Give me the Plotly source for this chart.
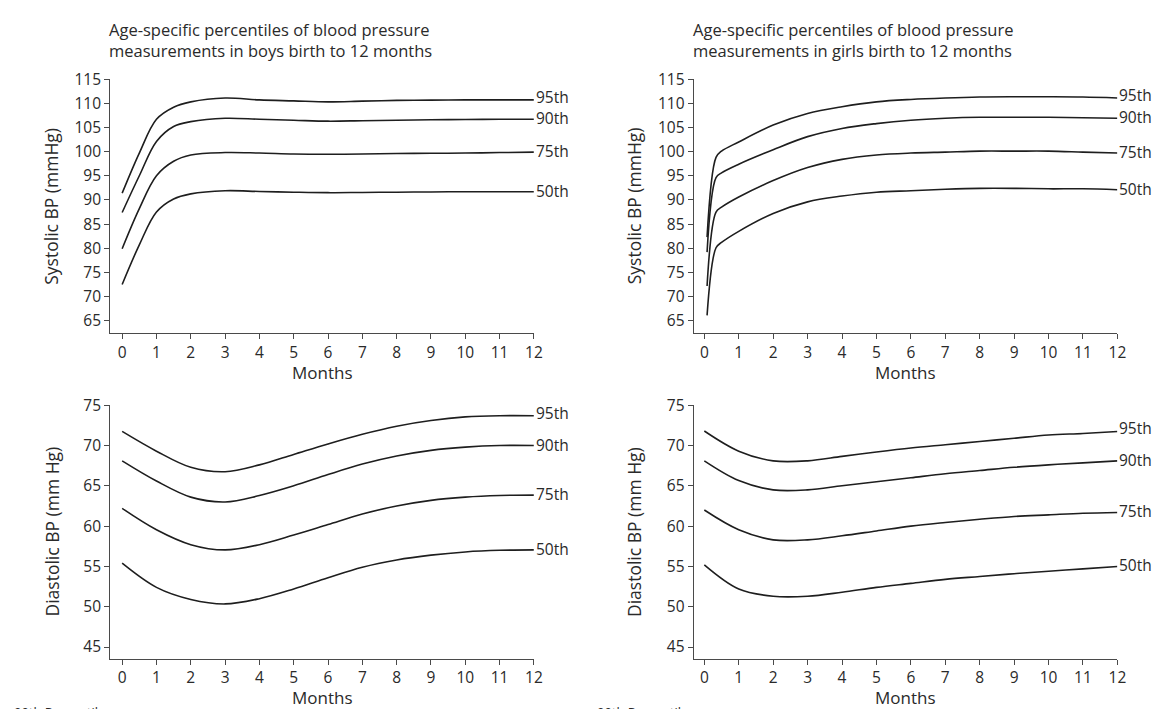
import plotly.graph_objects as go

W, H = 1176, 709

# ---------------- data ----------------
months_bs = [0, 0.5, 1, 1.5, 2, 3, 4, 5, 6, 7, 8, 9, 10, 11, 12]
boys_sys_95 = [91.4, 99.7, 106.7, 109.2, 110.3, 111.1, 110.7, 110.5, 110.3, 110.45, 110.6, 110.65, 110.7, 110.7, 110.7]
boys_sys_90 = [87.4, 95.0, 102.1, 105.2, 106.2, 106.9, 106.7, 106.5, 106.3, 106.4, 106.5, 106.6, 106.65, 106.7, 106.7]
boys_sys_75 = [79.9, 88.2, 95.0, 98.0, 99.3, 99.8, 99.7, 99.5, 99.45, 99.5, 99.6, 99.65, 99.7, 99.8, 99.9]
boys_sys_50 = [72.5, 80.7, 87.5, 90.2, 91.25, 91.9, 91.75, 91.6, 91.5, 91.55, 91.6, 91.65, 91.7, 91.7, 91.7]

months_gs = [0.08, 0.34, 0.5, 1, 2, 3, 4, 5, 6, 7, 8, 9, 10, 11, 12]
girls_sys_95 = [82.3, 98.8, 100.1, 102.0, 105.5, 107.9, 109.3, 110.3, 110.8, 111.1, 111.3, 111.35, 111.35, 111.3, 111.1]
girls_sys_90 = [79.2, 94.6, 95.6, 97.4, 100.4, 103.1, 104.8, 105.8, 106.5, 106.9, 107.1, 107.1, 107.1, 107.0, 106.9]
girls_sys_75 = [72.2, 87.5, 88.5, 90.6, 94.0, 96.7, 98.4, 99.3, 99.7, 99.9, 100.1, 100.1, 100.1, 99.9, 99.7]
girls_sys_50 = [66.1, 80.1, 81.2, 83.5, 87.2, 89.6, 90.8, 91.6, 91.9, 92.2, 92.4, 92.4, 92.3, 92.3, 92.1]

months_bd = [0, 1, 2, 3, 4, 5, 6, 7, 8, 9, 10, 11, 12]
boys_dia_95 = [71.75, 69.3, 67.3, 66.75, 67.6, 68.9, 70.2, 71.4, 72.4, 73.1, 73.55, 73.7, 73.7]
boys_dia_90 = [68.1, 65.6, 63.6, 63.0, 63.8, 65.0, 66.4, 67.7, 68.7, 69.4, 69.8, 70.0, 70.0]
boys_dia_75 = [62.2, 59.55, 57.7, 57.05, 57.7, 58.9, 60.2, 61.5, 62.5, 63.2, 63.6, 63.8, 63.85]
boys_dia_50 = [55.4, 52.4, 50.9, 50.35, 51.0, 52.2, 53.6, 54.9, 55.8, 56.4, 56.8, 57.0, 57.05]

months_gd = [0, 1, 2, 3, 4, 5, 6, 7, 8, 9, 10, 11, 12]
girls_dia_95 = [71.8, 69.3, 68.1, 68.1, 68.65, 69.2, 69.7, 70.1, 70.5, 70.9, 71.3, 71.5, 71.75]
girls_dia_90 = [68.1, 65.65, 64.5, 64.5, 65.0, 65.5, 66.0, 66.5, 66.9, 67.3, 67.6, 67.85, 68.1]
girls_dia_75 = [62.0, 59.55, 58.3, 58.3, 58.8, 59.4, 60.0, 60.45, 60.85, 61.2, 61.4, 61.6, 61.7]
girls_dia_50 = [55.2, 52.2, 51.3, 51.3, 51.8, 52.4, 52.9, 53.4, 53.75, 54.1, 54.4, 54.7, 55.0]

percentile_labels = ["95th", "90th", "75th", "50th"]
titles = [
    ["Age-specific percentiles of blood pressure", "measurements in boys birth to 12 months"],
    ["Age-specific percentiles of blood pressure", "measurements in girls birth to 12 months"],
]
ytitles = ["Systolic BP (mmHg)", "Systolic BP (mmHg)", "Diastolic BP (mm Hg)", "Diastolic BP (mm Hg)"]
xtitle = "Months"
footer = "90th Percentile"

panels = [
    (months_bs, [boys_sys_95, boys_sys_90, boys_sys_75, boys_sys_50]),
    (months_gs, [girls_sys_95, girls_sys_90, girls_sys_75, girls_sys_50]),
    (months_bd, [boys_dia_95, boys_dia_90, boys_dia_75, boys_dia_50]),
    (months_gd, [girls_dia_95, girls_dia_90, girls_dia_75, girls_dia_50]),
]

# ---------------- layout geometry (pixels) ----------------
FONT = "Open Sans"
TXT = "#2a2a2a"
AX = "#4a4a4a"
xpix = [(111, 538), (699, 1126), (111, 538), (699, 1126)]
ypix = [(68.3, 326.7), (68.3, 326.7), (400, 657.7), (400, 657.7)]
xranges = [[-0.35, 12], [-0.31, 12], [-0.35, 12], [-0.31, 12]]
yranges = [[62.42, 115], [62.42, 115], [43.57, 75], [43.57, 75]]
ydticks = [5, 5, 5, 5]
ytitle_x = [52, 639, 52, 639]
label_shift = [2, 0, 0, 0]

fig = go.Figure()
layout = dict(width=W, height=H, margin=dict(l=0, r=0, t=0, b=0),
              paper_bgcolor="white", plot_bgcolor="white", showlegend=False,
              font=dict(family=FONT, color=TXT))
annotations = []

for i, (xs, series) in enumerate(panels):
    n = "" if i == 0 else str(i + 1)
    for ys, lab, sh in zip(series, percentile_labels, label_shift):
        fig.add_trace(go.Scatter(x=xs, y=ys, mode="lines", xaxis="x" + n, yaxis="y" + n,
                                 line=dict(color="#1e1e1e", width=1.6, shape="spline", smoothing=1.0),
                                 hoverinfo="skip"))
        annotations.append(dict(x=12, y=ys[-1], xref="x" + n, yref="y" + n, text=lab,
                                showarrow=False, xanchor="left", yanchor="middle", xshift=1,
                                yshift=1 + sh, borderpad=0,
                                font=dict(size=15.5, family=FONT, color=TXT)))
    x0, x1 = xpix[i]
    y0, y1 = ypix[i]
    ax_common = dict(showline=True, linecolor=AX, linewidth=1, ticks="outside", ticklen=5,
                     tickcolor=AX, tickwidth=1, showgrid=False, zeroline=False,
                     tickfont=dict(size=15.5, family=FONT, color=TXT))
    layout["xaxis" + n] = dict(domain=[x0 / W, x1 / W], range=xranges[i], dtick=1, tick0=0,
                               anchor="y" + n, **ax_common)
    layout["yaxis" + n] = dict(domain=[1 - y1 / H, 1 - y0 / H], range=yranges[i], dtick=ydticks[i],
                               tick0=0, anchor="x" + n, **ax_common)
    annotations.append(dict(x=ytitle_x[i] / W, y=1 - (y0 + y1) / 2 / H, xref="paper", yref="paper",
                            text=ytitles[i], textangle=-90, showarrow=False,
                            xanchor="center", yanchor="middle",
                            font=dict(size=17.5, family=FONT, color=TXT)))
    annotations.append(dict(x=(x0 + x1) / 2 / W, y=1 - (y1 + 39.5) / H, xref="paper", yref="paper",
                            text=xtitle, showarrow=False, xanchor="center", yanchor="middle",
                            borderpad=0, font=dict(size=17, family=FONT, color=TXT)))

for j, tl in enumerate(titles):
    for k, line in enumerate(tl):
        annotations.append(dict(x=xpix[j][0] / W, y=1 - (18 + 21 * k) / H, xref="paper", yref="paper",
                                text=line, showarrow=False, xanchor="left", yanchor="middle",
                                xshift=-2, borderpad=0, font=dict(size=16.5, family=FONT, color=TXT)))

for fx in [12, 600]:
    annotations.append(dict(x=fx / W, y=1 - 712 / H, xref="paper", yref="paper", text=footer,
                            showarrow=False, xanchor="left", yanchor="middle",
                            font=dict(size=13, family=FONT, color=TXT)))

layout["annotations"] = annotations
fig.update_layout(**layout)
fig.write_html("out.html", config={"displayModeBar": False},
               post_script="document.body.style.margin='0';document.body.style.overflow='hidden';")
